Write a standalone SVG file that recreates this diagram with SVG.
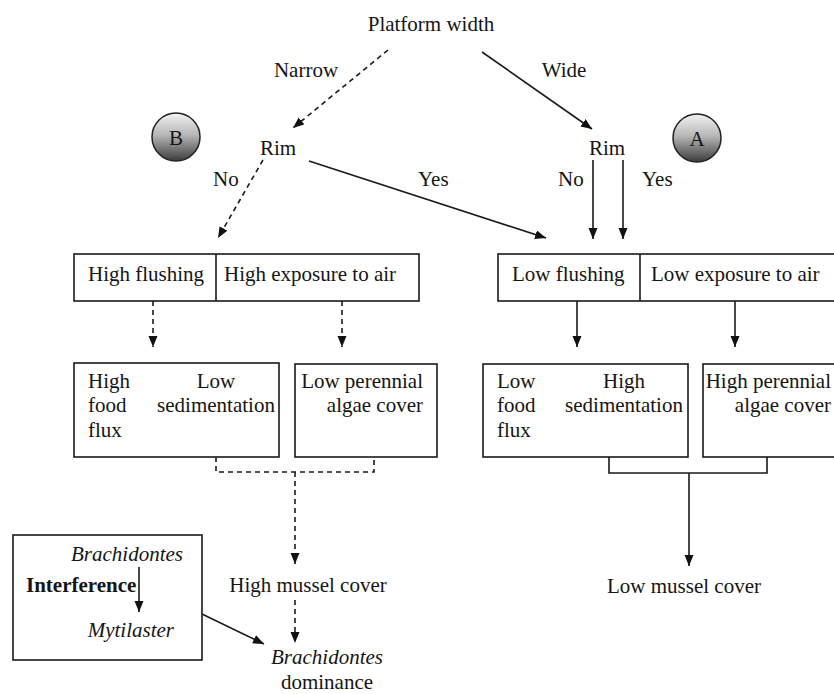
<svg xmlns="http://www.w3.org/2000/svg" width="834" height="694" viewBox="0 0 834 694">
  <defs>
    <marker id="arrow" markerUnits="userSpaceOnUse" markerWidth="12" markerHeight="10" refX="11" refY="4.5" orient="auto">
      <path d="M0,0 L11,4.5 L0,9 z" fill="#111"/>
    </marker>
    <linearGradient id="ball" x1="0" y1="0" x2="0" y2="1">
      <stop offset="0" stop-color="#f2f2f2"/>
      <stop offset="0.45" stop-color="#b8b8b8"/>
      <stop offset="1" stop-color="#3c3c3c"/>
    </linearGradient>
  </defs>
  <style>
    text { font-family: "Liberation Serif", "Times New Roman", serif; font-size: 21px; fill: #151515; }
    .it { font-style: italic; }
    .b { font-weight: bold; }
    .mid { text-anchor: middle; }
    .end { text-anchor: end; }
    .box { fill: #fff; stroke: #1a1a1a; stroke-width: 1.6; }
    .ln { fill: none; stroke: #1a1a1a; stroke-width: 1.6; }
    .dash { stroke-dasharray: 5 4; }
    .circ { fill: url(#ball); stroke: #222; stroke-width: 1.5; }
  </style>

  <rect width="834" height="694" fill="#fff"/>

  <!-- connectors -->
  <g id="connectors">
    <line class="ln dash" x1="388" y1="50" x2="293" y2="128" marker-end="url(#arrow)"/>
    <line class="ln" x1="482" y1="52" x2="592" y2="129" marker-end="url(#arrow)"/>
    <line class="ln dash" x1="263" y1="160" x2="218" y2="238" marker-end="url(#arrow)"/>
    <line class="ln" x1="309" y1="161" x2="546" y2="238" marker-end="url(#arrow)"/>
    <line class="ln" x1="593" y1="160" x2="593" y2="239" marker-end="url(#arrow)"/>
    <line class="ln" x1="623" y1="160" x2="623" y2="239" marker-end="url(#arrow)"/>

    <line class="ln dash" x1="153" y1="301" x2="153" y2="347" marker-end="url(#arrow)"/>
    <line class="ln dash" x1="342" y1="301" x2="342" y2="347" marker-end="url(#arrow)"/>
    <line class="ln" x1="577" y1="301" x2="577" y2="347" marker-end="url(#arrow)"/>
    <line class="ln" x1="735" y1="301" x2="735" y2="347" marker-end="url(#arrow)"/>

    <polyline class="ln dash" points="216,457 216,472 374,472 374,457"/>
    <line class="ln dash" x1="295" y1="472" x2="295" y2="564" marker-end="url(#arrow)"/>
    <line class="ln dash" x1="295" y1="600" x2="295" y2="643" marker-end="url(#arrow)"/>

    <polyline class="ln" points="609,457 609,473 767,473 767,457"/>
    <line class="ln" x1="689" y1="473" x2="689" y2="566" marker-end="url(#arrow)"/>

    <line class="ln" x1="202" y1="614" x2="264" y2="644" marker-end="url(#arrow)"/>
  </g>

  <!-- top of the tree -->
  <g id="platform">
    <text class="mid" x="431" y="31">Platform width</text>
  </g>
  <g id="label-narrow"><text class="mid" x="306" y="77">Narrow</text></g>
  <g id="label-wide"><text class="mid" x="564" y="77">Wide</text></g>

  <g id="badge-b">
    <circle class="circ" cx="176" cy="137" r="24"/>
    <text class="mid" x="176" y="145">B</text>
  </g>
  <g id="badge-a">
    <circle class="circ" cx="697" cy="138" r="24"/>
    <text class="mid" x="697" y="146">A</text>
  </g>

  <g id="rim-left"><text class="mid" x="278" y="155">Rim</text></g>
  <g id="rim-right"><text class="mid" x="607" y="155">Rim</text></g>

  <g id="labels-rim">
    <text x="213" y="186">No</text>
    <text x="418" y="186">Yes</text>
    <text x="558" y="186">No</text>
    <text x="642" y="186">Yes</text>
  </g>

  <!-- flushing / exposure boxes -->
  <g id="high-box">
    <rect class="box" x="74" y="254" width="345" height="47"/>
    <line class="ln" x1="216" y1="254" x2="216" y2="301"/>
    <text x="88" y="281">High flushing</text>
    <text x="224" y="281">High exposure to air</text>
  </g>
  <g id="low-box">
    <rect class="box" x="498" y="254" width="350" height="47"/>
    <line class="ln" x1="640" y1="254" x2="640" y2="301"/>
    <text x="512" y="281">Low flushing</text>
    <text x="651" y="281">Low exposure to air</text>
  </g>

  <!-- consequences -->
  <g id="high-food">
    <rect class="box" x="74" y="363" width="205" height="94"/>
    <text x="88" y="388">High</text>
    <text x="88" y="412">food</text>
    <text x="88" y="437">flux</text>
    <text class="mid" x="216" y="388">Low</text>
    <text class="mid" x="216" y="412">sedimentation</text>
  </g>
  <g id="low-algae">
    <rect class="box" x="295" y="364" width="142" height="93"/>
    <text class="end" x="423" y="388">Low perennial</text>
    <text class="end" x="423" y="412">algae cover</text>
  </g>
  <g id="low-food">
    <rect class="box" x="483" y="364" width="205" height="93"/>
    <text x="497" y="388">Low</text>
    <text x="497" y="412">food</text>
    <text x="497" y="437">flux</text>
    <text class="mid" x="624" y="388">High</text>
    <text class="mid" x="624" y="412">sedimentation</text>
  </g>
  <g id="high-algae">
    <rect class="box" x="703" y="364" width="150" height="93"/>
    <text class="end" x="831" y="388">High perennial</text>
    <text class="end" x="831" y="412">algae cover</text>
  </g>

  <!-- outcomes -->
  <g id="high-mussel"><text class="mid" x="308" y="592">High mussel cover</text></g>
  <g id="low-mussel"><text class="mid" x="684" y="593">Low mussel cover</text></g>
  <g id="dominance">
    <text class="mid it" x="327" y="664">Brachidontes</text>
    <text class="mid" x="327" y="689">dominance</text>
  </g>

  <g id="interference">
    <rect class="box" x="13" y="535" width="189" height="125"/>
    <text class="it end" x="183" y="561">Brachidontes</text>
    <text class="b" x="26" y="592">Interference</text>
    <line class="ln" x1="139" y1="567" x2="139" y2="612" marker-end="url(#arrow)"/>
    <text class="it end" x="174" y="637">Mytilaster</text>
  </g>
</svg>
